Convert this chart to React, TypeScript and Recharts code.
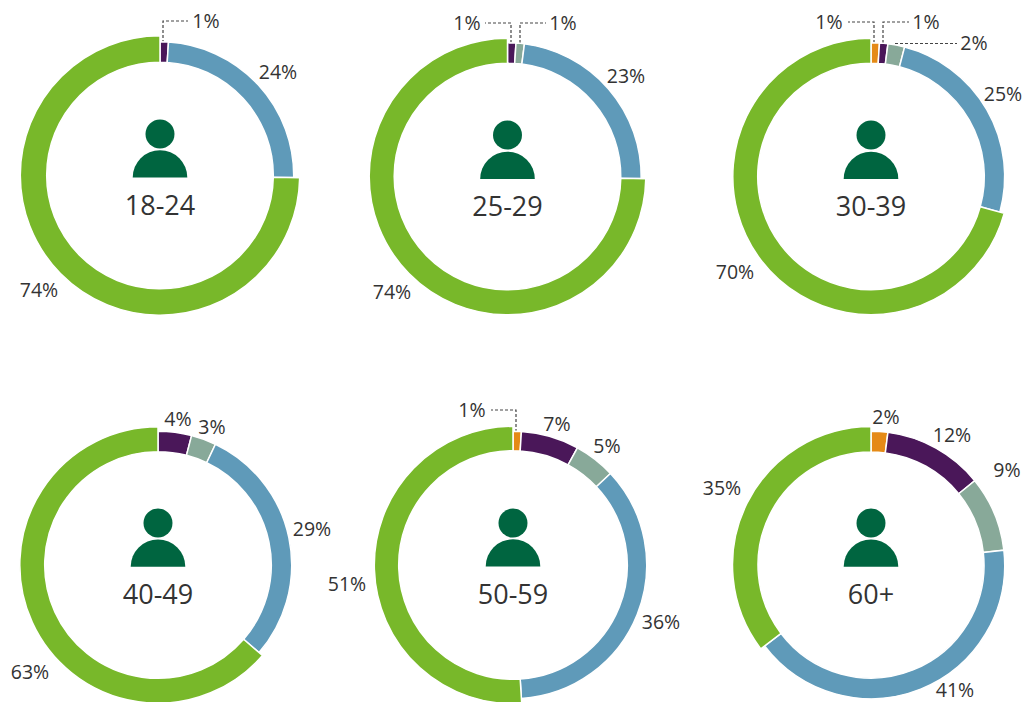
import React from "react";
import { PieChart, Pie, Cell, Sector } from "recharts";

const WIDTH = 1024;
const HEIGHT = 702;
const FONT = "'Open Sans', sans-serif";
const TEXT = "#333333";
const ICON = "#006540";

// Share of respondents by age group, clockwise from 12 o'clock
const ageGroups = ["18-24", "25-29", "30-39", "40-49", "50-59", "60+"];
const orange = [null, null, 1, null, 1, 2];
const purple = [1, 1, 1, 4, 7, 12];
const sage = [null, 1, 2, 3, 5, 9];
const blue = [24, 23, 25, 29, 36, 41];
const green = [74, 74, 70, 63, 51, 35];

const seriesNames = ["orange", "purple", "sage", "blue", "green"];
const seriesValues = [orange, purple, sage, blue, green];
const seriesColors = ["#e58a16", "#4a1759", "#88a999", "#5f9ab9", "#78b82a"];

// layout of each ring: centre, inner radius, radius of normal slices, radius of the green slice
// (radii allow for the white stroke eating 0.75px of each edge)
const rings = [
  { cx: 160, cy: 175.5, inner: 113.3, outer: 133.7, big: 139.7 },
  { cx: 507.5, cy: 176.5, inner: 113.3, outer: 133.7, big: 138.3 },
  { cx: 871, cy: 176.5, inner: 113.3, outer: 133.7, big: 138.2 },
  { cx: 158, cy: 565, inner: 113.3, outer: 133.7, big: 138.2 },
  { cx: 513, cy: 565, inner: 114.3, outer: 133.7, big: 138.7 },
  { cx: 871, cy: 565, inner: 113, outer: 133.7, big: 138.5 },
];

// person icon + age label position
const centres = [
  { x: 160, head: 134, base: 177.5, text: 205 },
  { x: 507.5, head: 135, base: 179, text: 206 },
  { x: 871, head: 135, base: 179, text: 206 },
  { x: 158, head: 523, base: 566.7, text: 594 },
  { x: 513, head: 523, base: 566.5, text: 594 },
  { x: 871, head: 523, base: 566.7, text: 594 },
];

// value label centres, one table per ring
const labelSpots: Record<string, [number, number]>[] = [
  { purple: [206, 21], blue: [278, 72], green: [39, 290] },
  { purple: [467, 23], sage: [563, 23], blue: [626, 76], green: [392, 292] },
  { orange: [829, 22], purple: [926, 22], sage: [974, 43], blue: [1003, 94], green: [735, 272] },
  { purple: [178, 419], sage: [212, 427], blue: [312, 529], green: [30, 672] },
  { orange: [472, 410], purple: [557, 424], sage: [607, 446], blue: [661, 622], green: [347, 584] },
  { orange: [886, 417], purple: [952, 435], sage: [1007, 470], blue: [955, 690], green: [722, 488] },
];

// dashed leaders for the slices too thin to carry a label
const leaders = [
  "163,43 163,21 188,21",
  "511,43 511,23 485,23",
  "520,43 520,23 546,23",
  "874,43 874,22 848,22",
  "883,43 883,22 909,22",
  "895,43.5 957,43.5",
  "516,432 516,410 491,410",
];

function sliceRows(i: number) {
  return seriesNames
    .map((name, s) => ({ name, value: seriesValues[s][i], color: seriesColors[s] }))
    .filter(d => d.value != null);
}

function Person({ x, head, base }: { x: number; head: number; base: number }) {
  return (
    <g fill={ICON}>
      <circle cx={x} cy={head} r={14.5} />
      <path d={`M${x - 27.3} ${base} A27.3 27.3 0 0 1 ${x + 27.3} ${base} Z`} />
    </g>
  );
}

export default function App() {
  return (
    <div style={{ position: "absolute", left: 0, top: 0, width: WIDTH, height: HEIGHT, overflow: "hidden", background: "#fff" }}>
      <PieChart width={WIDTH} height={HEIGHT} margin={{ top: 0, right: 0, bottom: 0, left: 0 }}>
        {ageGroups.map((age, i) => {
          const r = rings[i];
          return (
            <Pie
              key={age}
              data={sliceRows(i)}
              dataKey="value"
              nameKey="name"
              cx={r.cx}
              cy={r.cy}
              innerRadius={r.inner}
              outerRadius={r.outer}
              startAngle={90}
              endAngle={-270}
              stroke="#fff"
              strokeWidth={1.5}
              isAnimationActive={false}
              labelLine={false}
              shape={(p: any) => <Sector {...p} outerRadius={p.name === "green" ? r.big : r.outer} />}
              label={(p: any) => {
                const spot = labelSpots[i][p.name];
                return (
                  <text x={spot[0]} y={spot[1]} dy="0.36em" textAnchor="middle" fontSize={19.5} fontFamily={FONT} fill={TEXT}>
                    {p.value}%
                  </text>
                );
              }}
            >
              {sliceRows(i).map(d => <Cell key={d.name} fill={d.color} />)}
            </Pie>
          );
        })}
        {leaders.map(pts => (
          <polyline key={pts} points={pts} fill="none" stroke="#444" strokeWidth={1.2} strokeDasharray="3 2" />
        ))}
        {ageGroups.map((age, i) => (
          <g key={age}>
            <Person x={centres[i].x} head={centres[i].head} base={centres[i].base} />
            <text x={centres[i].x} y={centres[i].text} dy="0.36em" textAnchor="middle" fontSize={27} fontFamily={FONT} fill={TEXT}>
              {age}
            </text>
          </g>
        ))}
      </PieChart>
    </div>
  );
}
